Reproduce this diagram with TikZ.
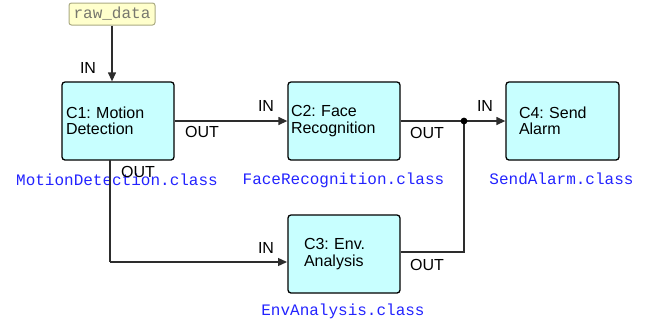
\documentclass[tikz,border=0pt]{standalone}
\usepackage{fontspec}
\setmainfont{Liberation Sans}
\newfontfamily\monofont{Liberation Mono}
\usetikzlibrary{arrows.meta}
\frenchspacing
\definecolor{boxfill}{RGB}{200,255,255}
\definecolor{clsblue}{RGB}{35,35,255}
\definecolor{wire}{RGB}{45,45,45}
\definecolor{rawfill}{RGB}{255,255,204}
\definecolor{rawdraw}{RGB}{170,170,130}
\definecolor{rawtext}{RGB}{120,120,110}
\tikzset{
  comp/.style={draw=black, line width=1.3pt, rounded corners=3pt, fill=boxfill,
    minimum height=78pt, align=left, inner ysep=0pt,
    font=\frenchspacing\fontsize{16}{16.5}\selectfont},
  portlbl/.style={anchor=base, inner sep=0pt, font=\fontsize{16}{16}\selectfont},
  clslbl/.style={anchor=base, inner sep=0pt, text=clsblue, font=\monofont\fontsize{16}{16}\selectfont},
  wireln/.style={draw=wire, line width=1.3pt},
  arr/.style={wireln, -{Triangle[length=9pt,width=8pt]}},
}
\begin{document}
\begin{tikzpicture}[x=1pt,y=-1pt]
\useasboundingbox (0,0) rectangle (657,325);
% raw data
\node[draw=rawdraw, fill=rawfill, rounded corners=2.5pt, line width=1pt,
  minimum width=86pt, minimum height=22pt, inner sep=0pt, text=rawtext,
  font=\monofont\fontsize{16}{16}\selectfont] (raw) at (112,14) {raw\_data};
% components
\node[comp, text width=104pt, inner xsep=4pt] (c1) at (118,121) {C1: Motion\\Detection};
\node[comp, text width=106pt, inner xsep=3pt] (c2) at (344,121) {C2: Face\\Recognition};
\node[comp, text width=80pt, inner xsep=16pt] (c3) at (344,254) {C3: Env.\\Analysis};
\node[comp, text width=87pt, inner xsep=13pt] (c4) at (562.5,121) {C4: Send\\Alarm};
% class labels
\node[clslbl] (l1) at (117,185) {MotionDetection.class};
\node[clslbl] (l2) at (343.5,184) {FaceRecognition.class};
\node[clslbl] (l4) at (561.5,184) {SendAlarm.class};
\node[clslbl] (l3) at (343,315) {EnvAnalysis.class};
% coordinates
\coordinate (j) at (464,121);
\coordinate (c1b) at (110,160);
\coordinate (bend1) at (110,262);
\coordinate (c3in) at (287,262);
\coordinate (c3out) at (401,252);
\coordinate (bend2) at (464,252);
% connectors
\draw[arr] (raw.south) -- (raw.south |- c1.north);
\draw[arr] (c1.east) -- (c2.west);
\draw[wireln] (c2.east) -- (j);
\draw[arr] (j) -- (c4.west);
\draw[wireln] (c1b) -- (bend1);
\draw[arr] (bend1) -- (c3in);
\draw[wireln] (c3out) -- (bend2) -- (j);
\fill[black] (j) circle (3.4pt);
% port labels
\node[portlbl] (in1) at (88,73) {IN};
\node[portlbl] (out1a) at (202,137) {OUT};
\node[portlbl] (out1b) at (138,177) {OUT};
\node[portlbl] (in2) at (266,111) {IN};
\node[portlbl] (out2) at (427,138) {OUT};
\node[portlbl] (in4) at (485,111) {IN};
\node[portlbl] (in3) at (266,253) {IN};
\node[portlbl] (out3) at (427,270) {OUT};
\end{tikzpicture}
\end{document}
